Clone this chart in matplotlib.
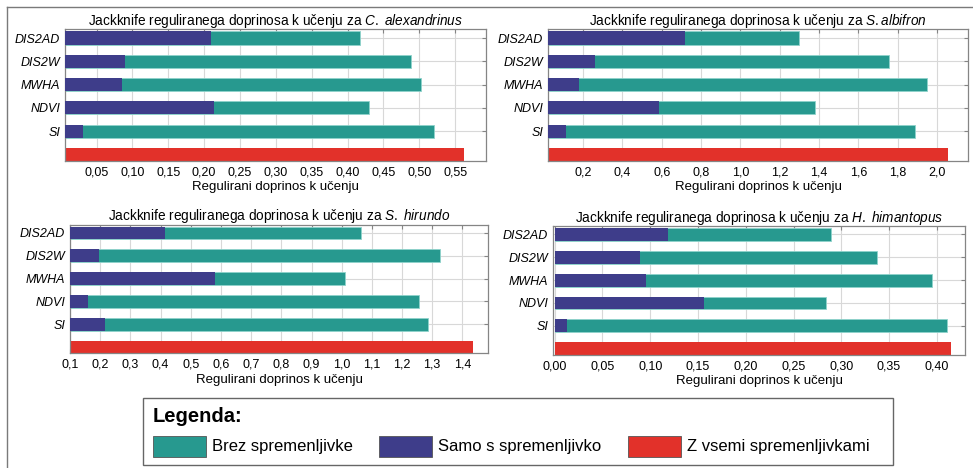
import matplotlib.pyplot as plt
import matplotlib.patches as mpatches
from matplotlib.lines import Line2D
from matplotlib.ticker import FuncFormatter, MultipleLocator
import numpy as np

plt.rcParams['font.family'] = ['Liberation Sans', 'DejaVu Sans']
plt.rcParams['mathtext.fontset'] = 'custom'
plt.rcParams['mathtext.it'] = 'Liberation Sans:italic'
plt.rcParams['mathtext.rm'] = 'Liberation Sans'

TEAL = '#27998f'
BLUE = '#3e3d8a'
RED = '#e2312a'
GRAY = '#858585'

W, H = 973, 468

variables = ['DIS2AD', 'DIS2W', 'MWHA', 'NDVI', 'SI']

# samo s spremenljivko (modro), brez spremenljivke (turkizno), z vsemi (rdece)
alex_only = [0.209, 0.090, 0.085, 0.214, 0.031]
alex_without = [0.417, 0.488, 0.503, 0.430, 0.520]
alex_all = 0.562

albi_only = [0.716, 0.260, 0.178, 0.588, 0.115]
albi_without = [1.298, 1.758, 1.950, 1.380, 1.890]
albi_all = 2.054

hiru_only = [0.415, 0.195, 0.580, 0.160, 0.215]
hiru_without = [1.065, 1.325, 1.010, 1.255, 1.285]
hiru_all = 1.435

hima_only = [0.1186, 0.089, 0.0955, 0.156, 0.0126]
hima_without = [0.289, 0.337, 0.395, 0.284, 0.411]
hima_all = 0.415

title_start = 'Jackknife reguliranega doprinosa k učenju za '
species = [r'$\mathit{C.\ alexandrinus}$', r'$\mathit{S.albifron}$',
           r'$\mathit{S.\ hirundo}$', r'$\mathit{H.\ himantopus}$']

legend_labels = ['Brez spremenljivke', 'Samo s spremenljivko', 'Z vsemi spremenljivkami']


def px_rect(left, top, right, bottom):
    return [left / W, 1 - bottom / H, (right - left) / W, (bottom - top) / H]


def draw_panel(ax, title, only, without, full, xlim, step, dec):
    y = np.arange(len(variables))
    ax.barh(y, without, height=0.56, color=TEAL, edgecolor='#8fd3cb', linewidth=0.6, zorder=2)
    ax.barh(y, only, height=0.56, color=BLUE, zorder=3)
    ax.barh(len(variables), full, height=0.56, color=RED, zorder=2)
    ax.set_yticks(y, variables, fontstyle='italic', fontsize=9)
    ax.set_ylim(5.28, -0.37)
    ax.set_xlim(*xlim)
    ax.xaxis.set_major_locator(MultipleLocator(step))
    ax.xaxis.set_major_formatter(FuncFormatter(
        lambda v, p: f'{round(v, dec) + 0:.{dec}f}'.replace('.', ',')))
    ax.grid(axis='both', color='#d8d8d8', lw=0.8)
    ax.set_axisbelow(True)
    ax.tick_params(axis='x', direction='in', length=3, top=True, color=GRAY,
                   labelsize=9, pad=4)
    ax.tick_params(axis='y', left=False, right=True, direction='in', length=3,
                   color=GRAY, pad=3.5)
    for s in ax.spines.values():
        s.set_color(GRAY)
        s.set_linewidth(0.9)
    ax.set_xlabel('Regulirani doprinos k učenju', fontsize=9.5, labelpad=2)
    ax.set_title(title, fontsize=9.8, pad=3)


fig = plt.figure(figsize=(W / 100, H / 100), dpi=100)

ax1 = fig.add_axes(px_rect(65, 29.4, 486, 161))
draw_panel(ax1, title_start + species[0], alex_only, alex_without, alex_all,
           (0.0059, 0.593), 0.05, 2)

ax2 = fig.add_axes(px_rect(548, 29.4, 968, 161))
draw_panel(ax2, title_start + species[1], albi_only, albi_without, albi_all,
           (0.021, 2.158), 0.2, 1)

ax3 = fig.add_axes(px_rect(70, 224.5, 488, 353.3))
draw_panel(ax3, title_start + species[2], hiru_only, hiru_without, hiru_all,
           (0.0995, 1.485), 0.1, 1)

ax4 = fig.add_axes(px_rect(553, 226, 965, 355))
draw_panel(ax4, title_start + species[3], hima_only, hima_without, hima_all,
           (-0.0018, 0.4295), 0.05, 2)

# outer frame (open on right and bottom)
fig.add_artist(Line2D([7 / W, 1], [1 - 7 / H, 1 - 7 / H], color='#7a7a7a', lw=1))
fig.add_artist(Line2D([7 / W, 7 / W], [0, 1 - 7 / H], color='#7a7a7a', lw=1))

# legend box
fig.add_artist(mpatches.Rectangle((143 / W, 1 - 465 / H), 750 / W, 67 / H,
                                  transform=fig.transFigure, facecolor='white',
                                  edgecolor='#666666', lw=1))
fig.text(153 / W, 1 - 416 / H, 'Legenda:', fontsize=14.5, fontweight='bold',
         va='center', ha='left')
patch_x = [153, 379, 628]
for px, lab, col in zip(patch_x, legend_labels, [TEAL, BLUE, RED]):
    fig.add_artist(mpatches.Rectangle((px / W, 1 - 457 / H), 53 / W, 21 / H,
                                      transform=fig.transFigure, facecolor=col,
                                      edgecolor='#555555', lw=0.6))
    fig.text((px + 59) / W, 1 - 446 / H, lab, fontsize=12, va='center', ha='left')

fig.savefig('out.png', dpi=100, facecolor='white')
